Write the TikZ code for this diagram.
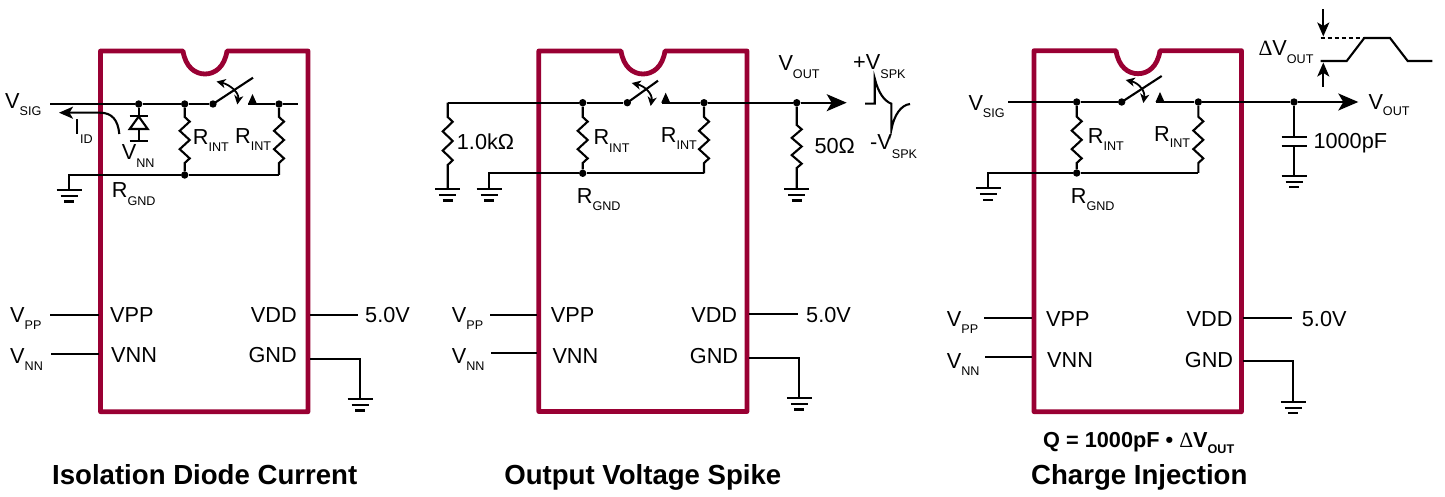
\documentclass[tikz,border=0pt]{standalone}
\usepackage{fontspec}
\setmainfont{Liberation Sans}
\newfontfamily\symfont{Liberation Serif}
\usetikzlibrary{arrows.meta}
\definecolor{icred}{HTML}{990033}
\newcommand\mainsize{\fontsize{21.7}{24}\selectfont}
\newcommand\subsize{\fontsize{12.6}{14}\selectfont}
\tikzset{
  wire/.style={draw=black,line width=2.1pt,line join=miter},
  thin wire/.style={draw=black,line width=1.8pt},
  icbox/.style={draw=icred,line width=4.8pt,line join=round},
  dot/.style={circle,fill=black,inner sep=0pt,minimum size=7.4pt},
  lbl/.style={anchor=base west,inner sep=0pt,text=black,font=\mainsize},
  lblr/.style={anchor=base east,inner sep=0pt,text=black,font=\mainsize},
  ttl/.style={anchor=base,inner sep=0pt,text=black,font=\fontsize{27.6}{29}\selectfont\bfseries},
  big arrow/.style={-{Stealth[length=20pt,width=17pt,inset=5pt]}},
  small arrow/.style={-{Stealth[length=14pt,width=12pt,inset=3.5pt]}},
  tiny arrows/.style={{Stealth[length=9pt,width=9pt,inset=2.5pt]}-{Stealth[length=9pt,width=9pt,inset=2.5pt]}},
}
% #1 name, #2 x, #3 baseline y, #4 main, #5 subscript, #6 drop
\newcommand\sublab[6]{\node[lbl] (#1) at (#2,#3) {#4\raisebox{-#6pt}{\subsize #5}};}
% IC outline
\newcommand\icbody[5]{%
  \draw[icbox] (#1,#4) -- (#3-22,#4) .. controls (#3-19.5,#4+16) and (#3-10,#4+23) .. (#3,#4+23)
    .. controls (#3+10,#4+23) and (#3+19.5,#4+16) .. (#3+22,#4) -- (#2,#4) -- (#2,#5) -- (#1,#5) -- cycle;}
% resistor: #1 top node, #2 bottom node, #3 x, #4 y0, #5 y1
\newcommand\res[5]{%
  \pgfmathsetmacro\rs{(#5-#4)/10}%
  \draw[wire] (#1) -- (#3,#4) -- (#3+5,#4+\rs) -- (#3-5,#4+3*\rs) -- (#3+5,#4+5*\rs) -- (#3-5,#4+7*\rs) -- (#3+5,#4+9*\rs) -- (#3,#5) -- (#2);}
% ground: #1 name, #2 x, #3 y
\newcommand\gnd[3]{%
  \coordinate (#1) at (#2,#3);
  \draw[wire] (#2-12.5,#3) -- (#2+12.5,#3);
  \draw[wire] (#2-8.5,#3+6) -- (#2+8.5,#3+6);
  \draw[wire] (#2-5,#3+11.5) -- (#2+5,#3+11.5);}
% switch: #1 prefix, #2 dot x, #3 wire y, #4 end x, #5 end y, #6 arc start x, #7 arc start y, #8 arc end x, #9 arc end y
\newcommand\swt[9]{%
  \node[dot] (#1sw) at (#2,#3) {};
  \coordinate (#1se) at (#4,#5);
  \coordinate (#1aa) at (#6,#7);
  \coordinate (#1ab) at (#8,#9);
  \draw[wire] (#1sw.center) -- (#1se);
  \draw[thin wire,tiny arrows] (#1aa) .. controls +(13,3) and +(2,-12) .. (#1ab);}
% contact triangle: #1 name, #2 x, #3 wire y
\newcommand\contact[3]{\node[fill=black,inner sep=0pt,minimum size=0pt] (#1) at (#2,#3) {};
  \fill[black] (#2-4.5,#3) -- (#2,#3-10) -- (#2+4.5,#3) -- cycle;}
\begin{document}
\begin{tikzpicture}[x=1pt,y=-1pt]
\useasboundingbox (0,0) rectangle (1445,497);
\fill[white] (0,0) rectangle (1445,497);

%%%%%%%% Panel 1
\icbody{100.5}{308}{205}{51}{411.7}
\coordinate (aL) at (50,104);
\coordinate (aR) at (298,104);
\node[dot] (aD) at (138.7,104) {};
\node[dot] (aJ) at (184.7,104) {};
\node[dot] (aK) at (279,104) {};
\node[dot] (aG) at (184.7,175) {};
\coordinate (aGR) at (279,175);
\swt{a}{213}{104}{253}{77.7}{216.5}{81.5}{237.3}{104.5}
\contact{aC}{252.5}{104}
\coordinate (aW) at (248,104);
\draw[wire] (aL) -- (aD) -- (aJ) -- (asw);
\draw[wire] (aW) -- (aK) -- (aR);
\res{aJ}{aG}{184.7}{117}{163}
\res{aK}{aGR}{279}{117}{163}
\gnd{aGn}{69}{190}
\draw[wire] (aGn) |- (aG);
\draw[wire] (aG) -- (aGR);
% diode
\coordinate (aDb) at (138.7,116);
\coordinate (aDc) at (138.7,129);
\coordinate (aDe) at (138.7,140.7);
\draw[wire] (aD) -- (aDb);
\draw[wire] (129.7,116) -- (147.7,116);
\draw[wire,line join=miter] (138.7,116.5) -- (147.7,129) -- (129.7,129) -- cycle;
\draw[wire] (aDc) -- (aDe);
\draw[wire] (129.7,140.7) -- (147.7,140.7);
% current arrow
\coordinate (aIs) at (119.3,134);
\coordinate (aIt) at (59,112.7);
\draw[wire,small arrow] (aIs) .. controls (118,120) and (112,112.7) .. (100,112.7) -- (aIt);
\sublab{aVsig}{5}{109}{V}{SIG}{7}
\sublab{aIid}{74}{135}{I}{ID}{9}
\sublab{aVnn}{121.7}{160}{V}{NN}{7.7}
\sublab{aR1}{192.7}{145}{R}{INT}{7}
\sublab{aR2}{235}{143.3}{R}{INT}{7}
\sublab{aRg}{111.7}{198}{R}{GND}{7.7}
% pins
\coordinate (aP1) at (50,315.3); \coordinate (aP1e) at (99,315.3);
\coordinate (aP2) at (51,353.7); \coordinate (aP2e) at (99,353.7);
\coordinate (aP3) at (310,315); \coordinate (aP3e) at (358,315);
\coordinate (aP4) at (310,358.7);
\draw[wire] (aP1) -- (aP1e);
\draw[wire] (aP2) -- (aP2e);
\draw[wire] (aP3) -- (aP3e);
\gnd{aPg}{360}{399}
\draw[wire] (aP4) -| (aPg);
\sublab{aVpp}{10}{322}{V}{PP}{7}
\sublab{aVnn2}{10}{363}{V}{NN}{7}
\node[lbl] (aT1) at (110,322) {VPP};
\node[lbl] (aT2) at (111,362.7) {VNN};
\node[lblr] (aT3) at (297,322) {VDD};
\node[lblr] (aT4) at (297,362.7) {GND};
\node[lbl] (aT5) at (365,322) {5.0V};
\node[ttl] (aTitle) at (204.7,484.7) {Isolation Diode Current};

%%%%%%%% Panel 2
\icbody{538.8}{747}{643}{51}{411.5}
\coordinate (bL) at (447.7,102.7);
\node[dot] (bJ) at (582.7,102.7) {};
\node[dot] (bK) at (704,102.7) {};
\node[dot] (bO) at (796.7,102.7) {};
\node[dot] (bG) at (582.7,173.3) {};
\coordinate (bGR) at (704,173.3);
\coordinate (bT) at (846.7,102.7);
\coordinate (bW) at (662,102.7);
\swt{b}{627.3}{102.7}{658}{80.7}{631.7}{83}{650.7}{106}
\contact{bC}{665.7}{102.7}
\draw[wire] (bL) -- (bJ) -- (bsw);
\draw[wire] (bW) -- (bK) -- (bO);
\draw[wire,big arrow] (bO) -- (bT);
\res{bJ}{bG}{582.7}{117}{163}
\res{bK}{bGR}{704}{117}{163}
\gnd{bGn}{489}{189}
\draw[wire] (bGn) |- (bG);
\draw[wire] (bG) -- (bGR);
\gnd{bGl}{447.7}{189}
\res{bL}{bGl}{447.7}{117}{165}
\gnd{bGo}{796.7}{189}
\res{bO}{bGo}{796.7}{125}{168}
% spike
\coordinate (bS0) at (865,103.7);
\coordinate (bS1) at (874.7,103.7);
\coordinate (bS2) at (874.7,78.3);
\coordinate (bS3) at (891.3,103.7);
\coordinate (bS4) at (891.3,130);
\coordinate (bS5) at (910,104);
\draw[wire] (bS0) -- (bS1) -- (bS2) .. controls (878,92) and (884,101) .. (bS3) -- (bS4) .. controls (894,115) and (901,105) .. (bS5);
\node[lbl] (bT0) at (456.7,149.3) {1.0k\symbol{"03A9}};
\node[lbl] (bT00) at (814.3,154) {50\symbol{"03A9}};
\sublab{bR1}{593.3}{145}{R}{INT}{7.3}
\sublab{bR2}{660.7}{142.3}{R}{INT}{7}
\sublab{bRg}{576.7}{203.3}{R}{GND}{7.4}
\sublab{bVo}{778.3}{71}{V}{OUT}{7.3}
\sublab{bVp}{853}{69.3}{+V}{SPK}{9}
\sublab{bVm}{870}{150}{-V}{SPK}{9}
% pins
\coordinate (bP1) at (490,314.7); \coordinate (bP1e) at (537,314.7);
\coordinate (bP2) at (491,353.3); \coordinate (bP2e) at (537,353.3);
\coordinate (bP3) at (749,314.3); \coordinate (bP3e) at (797.7,314.3);
\coordinate (bP4) at (749,358);
\draw[wire] (bP1) -- (bP1e);
\draw[wire] (bP2) -- (bP2e);
\draw[wire] (bP3) -- (bP3e);
\gnd{bPg}{799.3}{398}
\draw[wire] (bP4) -| (bPg);
\sublab{bVpp}{451.7}{322.3}{V}{PP}{7}
\sublab{bVnn2}{451.7}{363.3}{V}{NN}{7}
\node[lbl] (bT1) at (550.7,322) {VPP};
\node[lbl] (bT2) at (552.3,363) {VNN};
\node[lblr] (bT3) at (737.3,322) {VDD};
\node[lblr] (bT4) at (738.3,363) {GND};
\node[lbl] (bT5) at (806,322) {5.0V};
\node[ttl] (bTitle) at (642.8,484.7) {Output Voltage Spike};

%%%%%%%% Panel 3
\icbody{1034}{1241.5}{1138}{50.7}{411.7}
\coordinate (cL) at (1008.3,102);
\node[dot] (cJ) at (1076.7,102) {};
\node[dot] (cK) at (1198.3,102) {};
\node[dot] (cO) at (1294,102) {};
\node[dot] (cG) at (1076.7,173) {};
\coordinate (cGR) at (1198.3,173);
\coordinate (cT) at (1358.3,102);
\coordinate (cW) at (1156,102);
\swt{c}{1121.7}{102}{1161.7}{76}{1125.7}{80}{1143.3}{103}
\contact{cC}{1160}{102}
\draw[wire] (cL) -- (cJ) -- (csw);
\draw[wire] (cW) -- (cK) -- (cO);
\draw[wire,big arrow] (cO) -- (cT);
\res{cJ}{cG}{1076.7}{116.7}{163}
\res{cK}{cGR}{1198.3}{116.7}{163}
\gnd{cGn}{988.3}{188.3}
\draw[wire] (cGn) |- (cG);
\draw[wire] (cG) -- (cGR);
% capacitor
\coordinate (cC1) at (1294,137.3);
\coordinate (cC2) at (1294,145.7);
\draw[wire] (cO) -- (cC1);
\draw[wire] (1281.5,137.3) -- (1306.5,137.3);
\draw[wire] (1281.5,145.7) -- (1306.5,145.7);
\gnd{cGc}{1294}{175.7}
\draw[wire] (cC2) -- (cGc);
% step waveform
\coordinate (cW0) at (1320.7,61);
\coordinate (cW1) at (1346.7,61);
\coordinate (cW2) at (1364.3,38);
\coordinate (cW3) at (1390,38);
\coordinate (cW4) at (1407.7,61);
\coordinate (cW5) at (1432.3,61);
\coordinate (cW6) at (1320.7,38);
\draw[wire] (cW0) -- (cW1) -- (cW2) -- (cW3) -- (cW4) -- (cW5);
\draw[wire,dash pattern=on 4.5pt off 2.5pt] (cW6) -- (cW2);
\coordinate (cA1) at (1323.3,9.3);
\coordinate (cA1t) at (1323.3,36.5);
\coordinate (cA2) at (1323.3,87);
\coordinate (cA2t) at (1323.3,62.5);
\draw[wire,small arrow] (cA1) -- (cA1t);
\draw[wire,small arrow] (cA2) -- (cA2t);
\sublab{cVsig}{968.3}{111}{V}{SIG}{7}
\sublab{cR1}{1087.7}{144}{R}{INT}{6.8}
\sublab{cR2}{1154}{141.3}{R}{INT}{6.6}
\sublab{cRg}{1070.7}{203.3}{R}{GND}{6.8}
\sublab{cVo}{1368.3}{109.3}{V}{OUT}{6.6}
\node[lbl] (cCv) at (1313.3,148.3) {1000pF};
\sublab{cDv}{1258.3}{56}{{\symfont\symbol{"0394}}V}{OUT}{7.3}
% pins
\coordinate (cP1) at (984.3,318); \coordinate (cP1e) at (1032,318);
\coordinate (cP2) at (985,356.7); \coordinate (cP2e) at (1032,356.7);
\coordinate (cP3) at (1243,318); \coordinate (cP3e) at (1292,318);
\coordinate (cP4) at (1243,361);
\draw[wire] (cP1) -- (cP1e);
\draw[wire] (cP2) -- (cP2e);
\draw[wire] (cP3) -- (cP3e);
\gnd{cPg}{1293.3}{401.7}
\draw[wire] (cP4) -| (cPg);
\sublab{cVpp}{946.7}{326}{V}{PP}{7}
\sublab{cVnn2}{946.7}{368}{V}{NN}{7}
\node[lbl] (cT1) at (1046,326) {VPP};
\node[lbl] (cT2) at (1047,367.7) {VNN};
\node[lblr] (cT3) at (1232.7,326) {VDD};
\node[lblr] (cT4) at (1233.3,367.7) {GND};
\node[lbl] (cT5) at (1301.7,326) {5.0V};
\node[lbl,font=\fontsize{21.7}{24}\selectfont\bfseries] (cQ) at (1043,447) {Q = 1000pF \textbullet\ {\mdseries\symfont\symbol{"0394}}V\raisebox{-6.7pt}{\fontsize{12.6}{14}\selectfont OUT}};
\node[ttl] (cTitle) at (1139.3,484.7) {Charge Injection};
\end{tikzpicture}
\end{document}
